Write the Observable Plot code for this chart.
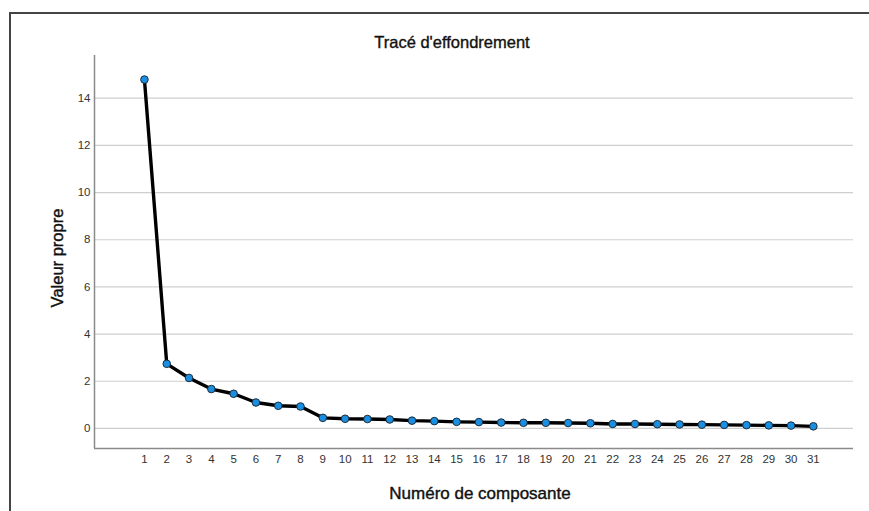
<!DOCTYPE html>
<html>
<head>
<meta charset="utf-8">
<script src="https://cdn.jsdelivr.net/npm/d3@7"></script>
<script src="https://cdn.jsdelivr.net/npm/@observablehq/plot@0.6"></script>
<style>
  html, body { margin: 0; padding: 0; background: #fff; }
  #wrap { position: relative; width: 869px; height: 511px; overflow: hidden; }
  #frame { position: absolute; left: 9px; top: 12px; width: 870px; height: 510px;
           border-left: 2px solid #444; border-top: 2px solid #444; pointer-events: none; }
</style>
</head>
<body>
<div id="wrap"><div id="frame"></div></div>
<script>
const components = [1,2,3,4,5,6,7,8,9,10,11,12,13,14,15,16,17,18,19,20,21,22,23,24,25,26,27,28,29,30,31];
const eigenvalues = [14.79,2.74,2.14,1.67,1.47,1.10,0.96,0.93,0.45,0.41,0.40,0.38,0.33,0.31,0.28,0.27,0.25,0.24,0.24,0.23,0.22,0.19,0.19,0.18,0.17,0.16,0.15,0.14,0.13,0.12,0.09];
const yTicks = [0,2,4,6,8,10,12,14];
const title = "Tracé d'effondrement";
const xLabel = "Numéro de composante";
const yLabel = "Valeur propre";

const data = components.map((c, i) => ({c, v: eigenvalues[i]}));
const xDomain = [-1.24, 32.8];
const yDomain = [-0.85, 15.81];
const font = "Liberation Sans, Arial, sans-serif";

const chart = Plot.plot({
  width: 869,
  height: 511,
  marginLeft: 94,
  marginRight: 16,
  marginTop: 55,
  marginBottom: 63,
  style: {fontFamily: font, background: "transparent"},
  x: {domain: xDomain},
  y: {domain: yDomain},
  marks: [
    Plot.ruleY(yTicks, {stroke: "#cfcfcf", strokeWidth: 1.2}),
    Plot.ruleX([xDomain[0]], {stroke: "#8a8a8a", strokeWidth: 1.5}),
    Plot.ruleY([yDomain[0]], {stroke: "#8a8a8a", strokeWidth: 1.5}),
    Plot.axisY({ticks: yTicks, tickSize: 0, tickPadding: 4, label: null, fontSize: 11.5, fill: "#333", stroke: "#333", strokeWidth: 0.2}),
    Plot.axisX({ticks: components, tickSize: 0, tickPadding: 6, label: null, fontSize: 11.5, fill: "#333", stroke: "#333", strokeWidth: 0.2, tickFormat: d => String(d)}),
    Plot.line(data, {x: "c", y: "v", stroke: "#000", strokeWidth: 3.4}),
    Plot.dot(data, {x: "c", y: "v", r: 3.8, fill: "#1a8ee0", stroke: "#1c2c3c", strokeWidth: 1}),
    Plot.text([title], {frameAnchor: "top", lineAnchor: "middle", textAnchor: "middle", dx: -22, dy: -13, fontSize: 16.5, fill: "#111", stroke: "#111", strokeWidth: 0.35, fontFamily: font}),
    Plot.text([xLabel], {frameAnchor: "bottom", lineAnchor: "middle", textAnchor: "middle", dx: 6, dy: 45, fontSize: 17, fill: "#111", stroke: "#111", strokeWidth: 0.4, fontFamily: font}),
    Plot.text([yLabel], {frameAnchor: "left", lineAnchor: "middle", textAnchor: "middle", rotate: -90, dx: -37, dy: 6, fontSize: 16.5, fill: "#111", stroke: "#111", strokeWidth: 0.4, fontFamily: font})
  ]
});
document.getElementById("wrap").prepend(chart);
chart.style.position = "absolute";
chart.style.left = "0";
chart.style.top = "0";
</script>
</body>
</html>
